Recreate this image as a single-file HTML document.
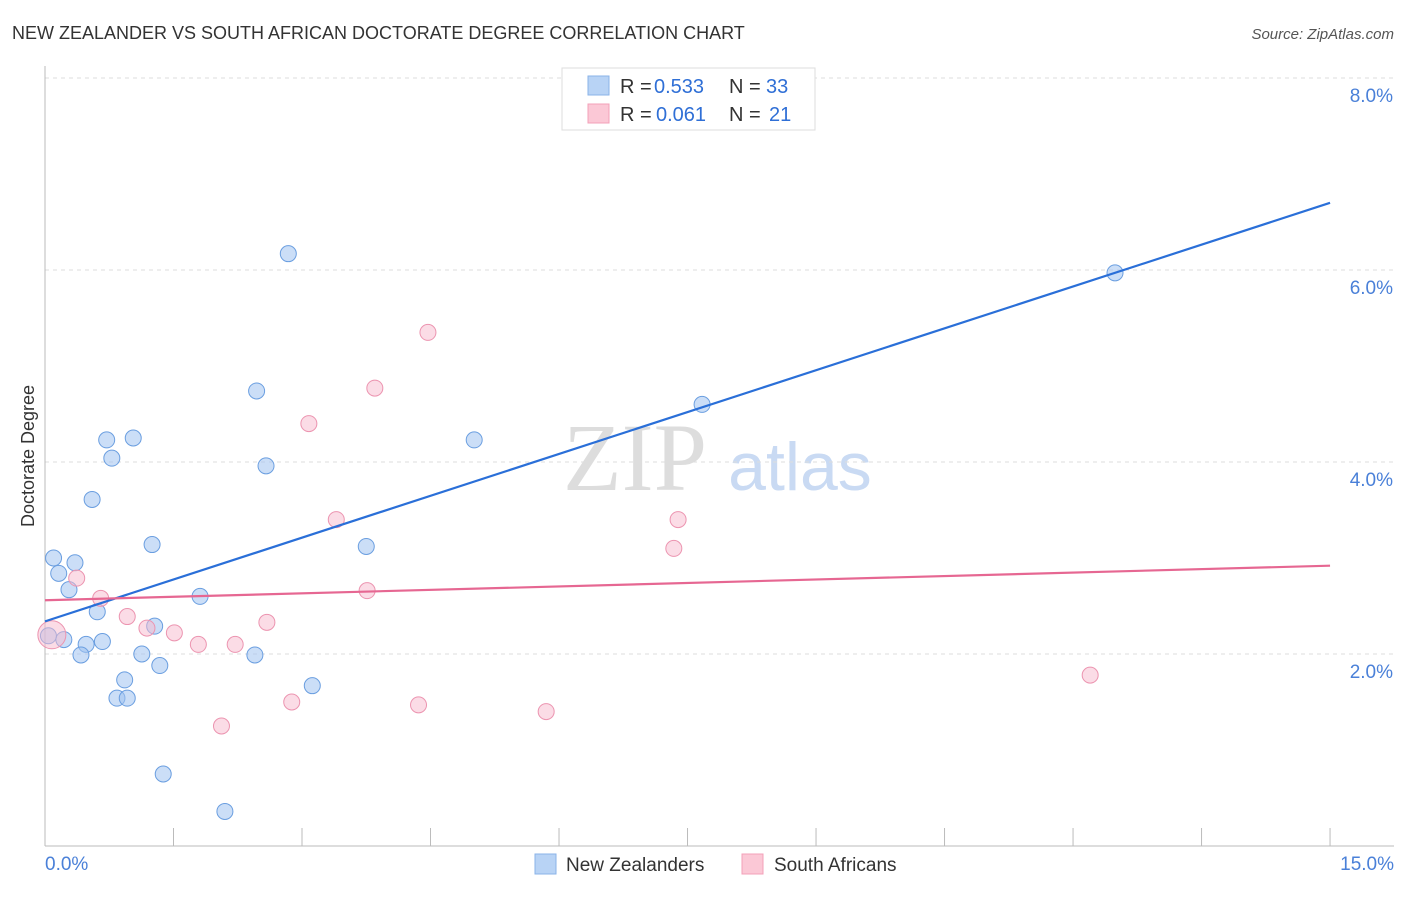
<!DOCTYPE html>
<html><head><meta charset="utf-8"><style>
body{margin:0;background:#fff;font-family:"Liberation Sans",sans-serif;}
</style></head><body>
<svg id="c" width="1406" height="892" xmlns="http://www.w3.org/2000/svg">
<text x="12" y="39" font-size="18" fill="#333">NEW ZEALANDER VS SOUTH AFRICAN DOCTORATE DEGREE CORRELATION CHART</text>
<text x="1394" y="39" font-size="15" fill="#555" font-style="italic" text-anchor="end">Source: ZipAtlas.com</text>
<text x="635" y="490" font-size="96" fill="#ddd" font-family="Liberation Serif,serif" text-anchor="middle">ZIP</text>
<text x="800" y="490" font-size="68" fill="#c9daf3" text-anchor="middle">atlas</text>
<text transform="translate(34,456) rotate(-90)" font-size="18" fill="#333" text-anchor="middle">Doctorate Degree</text>
<g id="grid"></g><g id="pts"></g><g id="lines"></g>
<g>
<rect x="562" y="68" width="253" height="62" fill="#fff" stroke="#ddd"/>
<rect x="588" y="76" width="21" height="19" fill="#b8d3f5" stroke="#8ab3e8"/>
<rect x="588" y="104" width="21" height="19" fill="#fbc8d6" stroke="#f3a0b8"/>
<text x="620" y="93" font-size="20" fill="#333">R =</text>
<text x="654" y="93" font-size="20" fill="#2f6fd6">0.533</text>
<text x="729" y="93" font-size="20" fill="#333">N =</text>
<text x="766" y="93" font-size="20" fill="#2f6fd6">33</text>
<text x="620" y="121" font-size="20" fill="#333">R =</text>
<text x="656" y="121" font-size="20" fill="#2f6fd6">0.061</text>
<text x="729" y="121" font-size="20" fill="#333">N =</text>
<text x="769" y="121" font-size="20" fill="#2f6fd6">21</text>
</g>
<g>
<rect x="535" y="854" width="21" height="20" fill="#b8d3f5" stroke="#8ab3e8"/>
<text x="566" y="871" font-size="19" fill="#333">New Zealanders</text>
<rect x="742" y="854" width="21" height="20" fill="#fbc8d6" stroke="#f3a0b8"/>
<text x="774" y="871" font-size="19" fill="#333">South Africans</text>
</g>
</svg>
<script>
const xTicks=[0,1.5,3,4.5,6,7.5,9,10.5,12,13.5,15];
const yTicks=[2,4,6,8];
const nzX=[0.1,0.16,0.35,0.28,0.22,0.48,0.42,0.67,0.61,0.55,0.72,0.78,1.03,1.25,0.93,0.84,0.96,1.13,1.28,1.34,1.38,1.81,2.1,2.45,2.47,2.58,2.84,3.12,3.75,5.01,7.67,12.49,0.04];
const nzYv=[3.0,2.84,2.95,2.67,2.15,2.1,1.99,2.13,2.44,3.61,4.23,4.04,4.25,3.14,1.73,1.54,1.54,2.0,2.29,1.88,0.75,2.6,0.36,1.99,4.74,3.96,6.17,1.67,3.12,4.23,4.6,5.97,2.19];
const saX=[0.08,0.37,0.65,0.96,1.19,1.51,1.79,2.22,2.06,2.59,2.88,3.08,3.4,3.76,3.85,4.36,4.47,5.85,7.34,7.39,12.2];
const saY=[2.2,2.79,2.58,2.39,2.27,2.22,2.1,2.1,1.25,2.33,1.5,4.4,3.4,2.66,4.77,1.47,5.35,1.4,3.1,3.4,1.78];
const nzLine=[[0,2.34],[15,6.7]];
const saLine=[[0,2.56],[15,2.92]];
const NS="http://www.w3.org/2000/svg";
const X=v=>45+v*85.67, Y=v=>846-v*96;
function mk(t,a,p){const e=document.createElementNS(NS,t);for(const k in a)e.setAttribute(k,a[k]);p.appendChild(e);return e;}
const g=document.getElementById('grid'),pts=document.getElementById('pts'),ln=document.getElementById('lines');
yTicks.forEach(v=>{
 const l=mk('line',{x1:45,x2:1394,y1:Y(v),y2:Y(v),stroke:'#ddd','stroke-dasharray':'4,4'},g);
 
 
 const t=mk('text',{x:1393,y:Y(v)+24,'font-size':19,fill:'#4a80d8','text-anchor':'end'},g);t.textContent=v.toFixed(1)+'%';
 
 
});
mk('line',{x1:45,x2:1394,y1:846,y2:846,stroke:'#bbb'},g);
mk('line',{x1:45,x2:45,y1:66,y2:846,stroke:'#bbb'},g);
xTicks.forEach((v,i)=>{ if(i>0){const l=mk('line',{x1:X(v),x2:X(v),y1:828,y2:846,stroke:'#bbb'},g);
 
 }});
[[0,'start',45],[15,'end',1394]].forEach(([v,a,x])=>{const t=mk('text',{x:x,y:870,'font-size':19,fill:'#4a80d8','text-anchor':a},g);t.textContent=v.toFixed(1)+'%';
 
 });
nzX.forEach((v,i)=>{const c=mk('circle',{cx:X(v),cy:Y(nzYv[i]),r:8,fill:'rgba(160,195,240,0.55)',stroke:'#6a9ee0','stroke-width':1},pts);
 
 });
saX.forEach((v,i)=>{const c=mk('circle',{cx:X(v),cy:Y(saY[i]),r:i==0?14:8,fill:'rgba(248,185,205,0.5)',stroke:'#ec94b0','stroke-width':1},pts);
 
 });
const a=mk('line',{x1:X(nzLine[0][0]),y1:Y(nzLine[0][1]),x2:X(nzLine[1][0]),y2:Y(nzLine[1][1]),stroke:'#2a6fd8','stroke-width':2.2},ln);


const b=mk('line',{x1:X(saLine[0][0]),y1:Y(saLine[0][1]),x2:X(saLine[1][0]),y2:Y(saLine[1][1]),stroke:'#e66792','stroke-width':2.2},ln);


</script>
</body></html>
